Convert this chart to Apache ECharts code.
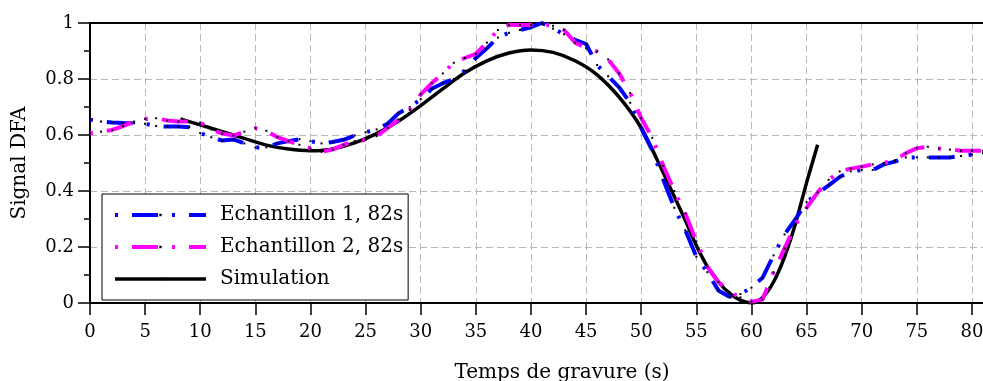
<!DOCTYPE html>
<html lang="fr">
<head>
    <meta charset="UTF-8">
    <title>Signal DFA</title>
    <script src="https://cdn.jsdelivr.net/npm/echarts@6/dist/echarts.min.js"></script>
    <style>
        body { margin: 0; background: #fff; }
    </style>
</head>
<body>
    <div id="main" style="width: 983px;height:381px;"></div>
    <script type="text/javascript">
        // temps (s) commun aux deux echantillons
        var tEch = [0,1,2,3,4,5,6,7,8,9,10,11,12,13,14,15,16,17,18,19,20,21,22,23,24,25,26,27,28,29,30,
            31,32,33,34,35,36,37,38,39,40,41,42,43,44,45,46,47,48,49,50,51,52,53,54,55,56,57,58,59,60,
            61,62,63,64,65,66,67,68,69,70,71,72,73,74,75,76,77,78,79,80,81];
        // Echantillon 1, 82s (bleu)
        var ech1 = [0.655,0.648,0.645,0.643,0.642,0.640,0.632,0.630,0.630,0.628,0.607,0.592,0.580,0.584,0.570,
            0.555,0.556,0.570,0.578,0.585,0.578,0.570,0.575,0.583,0.598,0.610,0.620,0.640,0.678,0.700,0.728,
            0.765,0.785,0.800,0.830,0.875,0.910,0.948,0.965,0.975,0.985,1.0,0.980,0.960,0.940,0.925,0.850,
            0.810,0.770,0.715,0.625,0.545,0.440,0.340,0.260,0.165,0.110,0.045,0.022,0.032,0.055,0.090,0.170,
            0.245,0.300,0.360,0.392,0.420,0.450,0.470,0.475,0.475,0.495,0.505,0.520,0.520,0.520,0.520,0.520,
            0.525,0.530,0.535];
        // Echantillon 2, 82s (magenta)
        var ech2 = [0.606,0.612,0.618,0.632,0.648,0.657,0.660,0.652,0.648,0.648,0.645,0.620,0.605,0.598,0.612,
            0.624,0.615,0.592,0.578,0.565,0.552,0.540,0.548,0.565,0.578,0.582,0.596,0.625,0.655,0.690,0.745,
            0.785,0.820,0.858,0.875,0.890,0.930,0.975,0.993,0.993,0.993,0.996,0.990,0.975,0.930,0.910,0.898,
            0.870,0.820,0.750,0.660,0.590,0.490,0.400,0.320,0.220,0.130,0.075,0.040,0.020,0.005,0.012,0.110,
            0.195,0.280,0.340,0.395,0.440,0.470,0.480,0.487,0.495,0.500,0.510,0.535,0.553,0.558,0.552,0.548,
            0.544,0.544,0.544];
        // Simulation (noir)
        var tSim = [8.2,10,12,14,16,18,20,21,22,24,26,28,30,32,34,36,38,40,42,44,46,48,50,52,53,54,55,56,57,58,59,60,61,62,63,64,65,66];
        var sim = [0.657,0.636,0.612,0.588,0.564,0.550,0.544,0.545,0.550,0.572,0.605,0.650,0.705,0.765,0.822,
            0.865,0.893,0.904,0.895,0.865,0.815,0.735,0.625,0.465,0.380,0.295,0.205,0.130,0.075,0.035,0.010,
            0.0,0.020,0.075,0.165,0.285,0.430,0.565];

        function pairs(xs, ys) {
            var out = [];
            for (var i = 0; i < xs.length; i++) {
                out.push([xs[i], ys[i]]);
            }
            return out;
        }

        var police = 'DejaVu Serif';
        var myChart = echarts.init(document.getElementById('main'));
        var option = {
            animation: false,
            textStyle: { fontFamily: police },
            grid: { left: 90, right: 0, top: 23, bottom: 78, outerBoundsMode: 'none' },
            legend: {
                orient: 'vertical',
                left: 102,
                top: 194,
                padding: [11, 5, 11, 11],
                itemWidth: 91,
                itemHeight: 3,
                itemGap: 12,
                backgroundColor: '#fff',
                borderColor: '#000',
                borderWidth: 1,
                borderRadius: 0,
                lineStyle: { width: 'inherit' },
                textStyle: { fontFamily: police, fontSize: 20, lineHeight: 20, color: '#000', padding: [0, 0, 0, 9] },
                data: ['Echantillon 1, 82s', 'Echantillon 2, 82s', 'Simulation']
            },
            xAxis: [{
                type: 'value',
                min: 0,
                max: 81,
                interval: 5,
                name: 'Temps de gravure (s)',
                nameLocation: 'middle',
                nameGap: 60,
                nameTextStyle: { fontFamily: police, fontSize: 20, color: '#000', padding: [0, 0, 0, 51] },
                axisLine: { onZero: false, lineStyle: { color: '#000', width: 2 } },
                axisTick: { length: 12, lineStyle: { color: '#000', width: 1.5 } },
                axisLabel: { fontFamily: police, fontSize: 18, color: '#000', margin: 20, showMaxLabel: false },
                splitLine: { lineStyle: { color: '#b8b8b8', type: [7, 4], width: 1 } }
            }, {
                type: 'value',
                position: 'top',
                min: 0,
                max: 81,
                axisLine: { onZero: false, lineStyle: { color: '#000', width: 2 } },
                axisTick: { show: false },
                axisLabel: { show: false },
                splitLine: { show: false }
            }],
            yAxis: {
                type: 'value',
                min: 0,
                max: 1,
                interval: 0.2,
                name: 'Signal DFA',
                nameLocation: 'middle',
                nameGap: 60,
                nameTextStyle: { fontFamily: police, fontSize: 20, color: '#000' },
                axisLine: { show: true, onZero: false, lineStyle: { color: '#000', width: 2 } },
                axisTick: { length: 12, lineStyle: { color: '#000', width: 1.5 } },
                minorTick: { show: true, splitNumber: 2, length: 6, lineStyle: { color: '#000', width: 1.5 } },
                axisLabel: { fontFamily: police, fontSize: 18, color: '#000', margin: 16 },
                splitLine: { lineStyle: { color: '#b8b8b8', type: [7, 4], width: 1 } }
            },
            series: [{
                name: 'Echantillon 1, 82s',
                type: 'line',
                data: pairs(tEch, ech1),
                symbol: 'rect',
                symbolSize: 2,
                itemStyle: { color: '#000' },
                lineStyle: { color: '#0000ff', width: 4, type: [3, 14, 26, 14] },
                z: 3
            }, {
                name: 'Echantillon 2, 82s',
                type: 'line',
                data: pairs(tEch, ech2),
                symbol: 'rect',
                symbolSize: 2,
                itemStyle: { color: '#000' },
                lineStyle: { color: '#ff00ff', width: 4, type: [3, 14, 26, 14] },
                z: 4
            }, {
                name: 'Simulation',
                type: 'line',
                data: pairs(tSim, sim),
                smooth: 0.3,
                showSymbol: false,
                symbol: 'none',
                itemStyle: { color: '#000' },
                lineStyle: { color: '#000', width: 3.5 },
                z: 2
            }]
        };
        myChart.setOption(option);
    </script>
</body>
</html>
